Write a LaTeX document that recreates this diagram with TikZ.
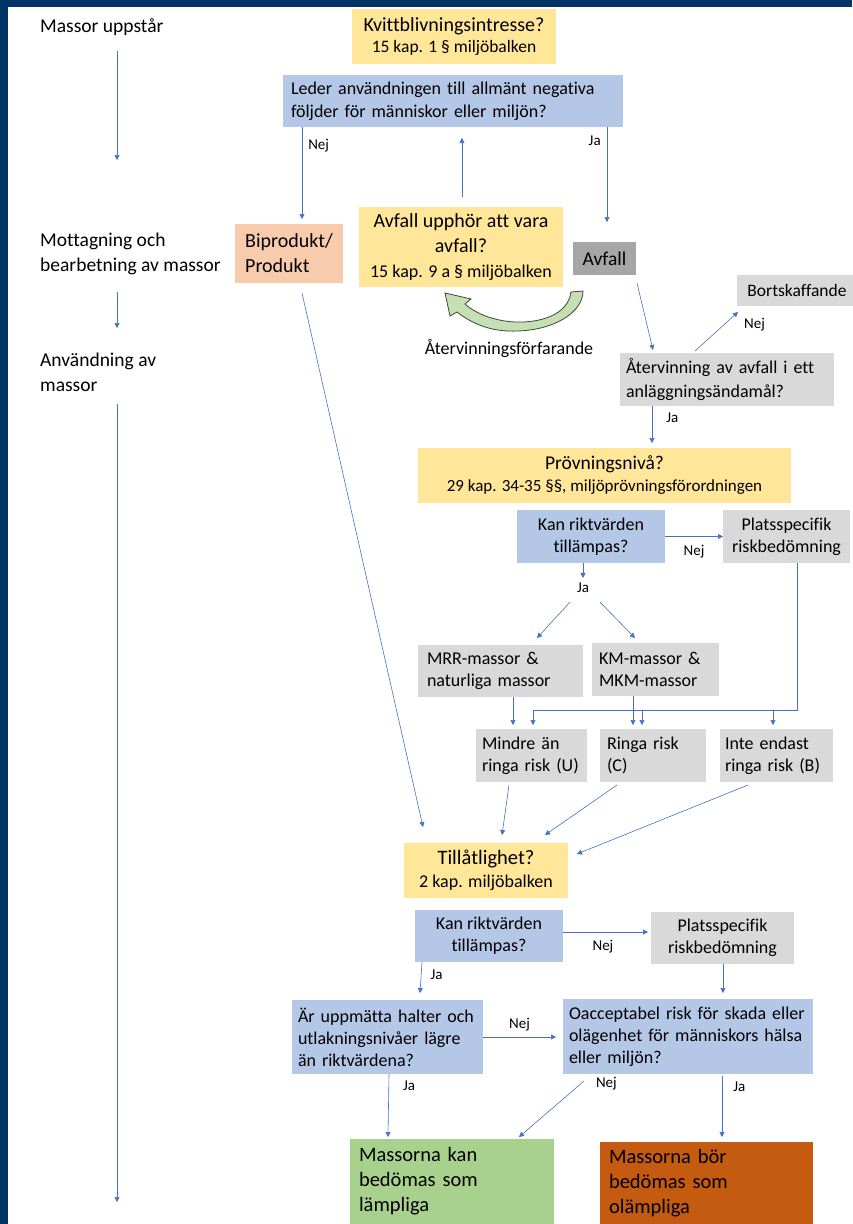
\documentclass[tikz,border=0pt]{standalone}
\usepackage{fontspec}
\setmainfont{Carlito}[Ligatures=NoCommon]
\usetikzlibrary{arrows.meta,calc}

\definecolor{frameblue}{HTML}{003366}
\definecolor{boxyellow}{HTML}{FFE699}
\definecolor{boxblue}{HTML}{B4C7E7}
\definecolor{boxgrey}{HTML}{D9D9D9}
\definecolor{boxdark}{HTML}{A6A6A6}
\definecolor{boxpeach}{HTML}{F8CBAD}
\definecolor{boxgreen}{HTML}{A9D18E}
\definecolor{boxorange}{HTML}{C55A11}
\definecolor{arrowblue}{HTML}{4472C4}
\definecolor{loopgreen}{HTML}{C5E0B4}
\definecolor{loopline}{HTML}{3A4A3A}

\tikzset{
  box/.style={inner sep=0pt, outer sep=0pt, align=center},
  yelbox/.style={box, fill=boxyellow},
  bluebox/.style={box, fill=boxblue},
  greybox/.style={box, fill=boxgrey},
  wh/.style 2 args={minimum width=#1pt, minimum height=#2pt},
  lefttext/.style 2 args={align=left, text width=#1pt, inner xsep=#2pt},
  t18/.style={font=\fontsize{18}{22}\selectfont},
  stage/.style={font=\fontsize{19.5}{25}\selectfont, align=left, anchor=west, inner sep=0pt},
  lbl/.style={font=\fontsize{15}{17}\selectfont, inner sep=1pt},
  arr/.style={draw=arrowblue, line width=0.6pt, -{Triangle[length=5pt,width=5pt]}}
}

\begin{document}
\begin{tikzpicture}[x=1pt, y=-1pt]
 \fill[frameblue] (0,0) rectangle (852,1224);
 \fill[white] (8,7) rectangle (852,1224);
 \useasboundingbox (0,0) rectangle (852,1224);

 \node[stage] (st1) at (40,27) {Massor uppstår};
 \node[stage] (st2) at (40,253.5) {Mottagning och\\bearbetning av massor};
 \node[stage] (st3) at (40,372.5) {Användning av\\massor};
 \coordinate (a1) at (117,51);
 \coordinate (a2) at (117,160);
 \coordinate (a3) at (117,292);
 \coordinate (a4) at (117,328);
 \coordinate (a5) at (117,404);
 \coordinate (a6) at (117,1202);
 \draw[arr] (a1) -- (a2);
 \draw[arr] (a3) -- (a4);
 \draw[arr] (a5) -- (a6);

 \node[yelbox, wh={204}{55}, font=\fontsize{18}{21}\selectfont] (kvitt) at (454,36.5)
   {{\fontsize{20}{21}\selectfont Kvittblivningsintresse?}\\{\fontsize{17.5}{21}\selectfont 15 kap. 1 § miljöbalken}};
 \node[bluebox, wh={340}{52}, lefttext={324}{8}, font=\fontsize{18}{23}\selectfont] (leder) at (453,101)
   {Leder användningen till allmänt negativa\\följder för människor eller miljön?};
 \node[box, fill=boxpeach, wh={108}{59}, align=left, font=\fontsize{20}{25}\selectfont] (bip) at (289,253.5)
   {Biprodukt/\\Produkt};
 \node[yelbox, wh={204}{80}, font=\fontsize{20}{25}\selectfont] (upph) at (461,247)
   {Avfall upphör att vara\\avfall?\\{\fontsize{18}{25}\selectfont 15 kap. 9 a § miljöbalken}};
 \node[box, fill=boxdark, wh={63}{33}, font=\fontsize{19.5}{24}\selectfont] (avfall) at (604.5,258.5) {Avfall};
 \node[greybox, anchor=west, minimum height=31pt, inner xsep=10pt, minimum width=120pt,
   font=\fontsize{17.5}{21}\selectfont] (bort) at (737,290.5) {Bortskaffande};

 \filldraw[fill=loopgreen, draw=loopline, line width=0.8pt]
   (583,291) -- (571,292) .. controls (568,315) and (540,323) .. (515,322)
   .. controls (495,321) and (476,314) .. (465,304) -- (471,299) -- (445,293) -- (450,316)
   -- (457,312) .. controls (475,326) and (495,332) .. (517,331)
   .. controls (555,330) and (583,312) .. (583,291) -- cycle;
 \node[font=\fontsize{18}{22}\selectfont] (atvlbl) at (509,348) {Återvinningsförfarande};

 \node[greybox, wh={214}{53}, lefttext={202}{6}, font=\fontsize{18}{24}\selectfont] (atv) at (727,379.5)
   {Återvinning av avfall i ett\\anläggningsändamål?};
 \node[yelbox, wh={373}{55}, font=\fontsize{17}{22}\selectfont] (prov) at (604.5,475.5)
   {{\fontsize{19.5}{22}\selectfont Prövningsnivå?}\\29 kap. 34-35 §§, miljöprövningsförordningen};
 \node[bluebox, wh={148}{53}, t18] (kan1) at (591,536.5) {Kan riktvärden\\tillämpas?};
 \node[greybox, wh={127}{53}, t18] (plats1) at (786.5,536.5) {Platsspecifik\\riskbedömning};
 \node[lbl] (jak) at (583,588) {Ja};
 \node[greybox, wh={165}{52}, lefttext={147}{9}, t18] (mrr) at (500.5,671) {MRR-massor \&\\naturliga massor};
 \node[greybox, wh={127}{53}, lefttext={113}{7}, t18] (km) at (655.5,669.5) {KM-massor \&\\MKM-massor};
 \node[greybox, wh={111}{53}, lefttext={99}{6}, t18] (mindre) at (531.5,755.5) {Mindre än\\ringa risk (U)};
 \node[greybox, wh={106}{53}, lefttext={92}{7}, t18] (ringa) at (653,755.5) {Ringa risk\\(C)};
 \node[greybox, wh={113}{53}, lefttext={103}{5}, t18] (inte) at (776.5,755.5) {Inte endast\\ringa risk (B)};

 \node[yelbox, wh={164}{55}, font=\fontsize{18}{23}\selectfont] (till) at (486,870.5)
   {{\fontsize{20.5}{23}\selectfont Tillåtlighet?}\\2 kap. miljöbalken};
 \node[bluebox, wh={148}{52}, t18] (kan2) at (489,936) {Kan riktvärden\\tillämpas?};
 \node[greybox, wh={143}{52}, t18] (plats2) at (722.5,938) {Platsspecifik\\riskbedömning};
 \node[bluebox, wh={191}{74}, lefttext={179}{6}, t18] (ar) at (387.5,1037)
   {Är uppmätta halter och\\utlakningsnivåer lägre\\än riktvärdena?};
 \node[bluebox, wh={250}{75}, lefttext={238}{6}, t18] (oacc) at (688,1036.5)
   {Oacceptabel risk för skada eller\\olägenhet för människors hälsa\\eller miljön?};
 \node[box, fill=boxgreen, wh={202}{85}, lefttext={186}{9}, font=\fontsize{20.5}{25}\selectfont] (ok) at (452,1181.5)
   {Massorna kan\\bedömas som\\lämpliga};
 \node[box, fill=boxorange, wh={213}{82}, lefttext={195}{9}, font=\fontsize{20.5}{25}\selectfont] (notok) at (706.5,1183)
   {Massorna bör\\bedömas som\\olämpliga};

 \draw[arr] ($(leder.south west)+(19,0)$) -- node[lbl, right=5pt, pos=0.2] {Nej} ($(bip.north west)+(67,-5)$);
 \draw[arr] ($(upph.north west)+(103,-10)$) -- ($(leder.south west)+(179,11)$);
 \draw[arr] ($(leder.south west)+(324,0)$) -- node[lbl, left=5pt, pos=0.14] {Ja} ($(avfall.north west)+(34,-20)$);
 \draw[arr] ($(avfall.south west)+(64,8)$) -- ($(atv.north west)+(33,-3)$);
 \draw[arr] ($(atv.north west)+(75,-2)$) -- node[lbl, pos=0.67, right=19pt] {Nej} ($(bort.south west)+(1,6)$);
 \draw[arr] ($(atv.south west)+(32,0)$) -- node[lbl, right=13pt, pos=0.32] {Ja} ($(prov.north west)+(234,-5)$);

 \draw[arr] (kan1.east) -- node[lbl, below=7pt] {Nej} (plats1.west);
 \draw[arr, shorten >=4pt] ($(kan1.south west)+(66,0)$) -- (jak.north);
 \draw[arr] ($(jak.south)+(-13,8)$) -- ($(mrr.north west)+(119,-7)$);
 \draw[arr] ($(jak.south)+(17,8)$) -- ($(km.north west)+(43,-5)$);
 \draw[arr] ($(mrr.south west)+(95,0)$) -- ($(mindre.north west)+(37,-4)$);
 \draw[arr] ($(km.south west)+(41,0)$) -- ($(ringa.north west)+(33,-4)$);
 \draw[arr] ($(plats1.south west)+(74,0)$) |- ($(mindre.north west)+(57,-19)$) -- ($(mindre.north west)+(57,-4)$);
 \draw[arr] ($(ringa.north west)+(42,-19)$) -- ($(ringa.north west)+(42,-4)$);
 \draw[arr] ($(inte.north west)+(53,-19)$) -- ($(inte.north west)+(53,-4)$);

 \draw[arr] ($(mindre.south west)+(33,3)$) -- ($(till.north west)+(98,-8)$);
 \draw[arr] ($(ringa.south west)+(17,3)$) -- ($(till.north west)+(141,-8)$);
 \draw[arr] ($(inte.south west)+(28,3)$) -- ($(till.north east)+(9,11)$);
 \draw[arr] ($(bip.south west)+(67,10)$) -- ($(till.north west)+(19,-16)$);

 \draw[arr] ($(kan2.north east)+(0,22)$) -- node[lbl, below=7pt, pos=0.47] {Nej} ($(plats2.north west)+(-3,20)$);
 \draw[arr] ($(kan2.south west)+(7,0)$) -- node[lbl, right=8pt, pos=0.4] {Ja} ($(ar.north west)+(128,-7)$);
 \draw[arr] ($(plats2.south west)+(72,0)$) -- ($(oacc.north west)+(160,-6)$);
 \draw[arr] ($(ar.north east)+(0,37)$) -- node[lbl, above=5pt] {Nej} ($(oacc.north west)+(-7,38)$);
 \draw[arr] ($(ar.south west)+(97,0)$) -- node[lbl, right=13pt, pos=0.19] {Ja} ($(ok.north west)+(38,-2)$);
 \draw[arr] ($(oacc.south west)+(21,7)$) -- node[lbl, right=14pt, pos=0.05] {Nej} ($(ok.north west)+(169,-2)$);
 \draw[arr] ($(oacc.south west)+(159,2)$) -- node[lbl, right=10pt, pos=0.18] {Ja} ($(notok.north west)+(122,-5)$);
\end{tikzpicture}
\end{document}
